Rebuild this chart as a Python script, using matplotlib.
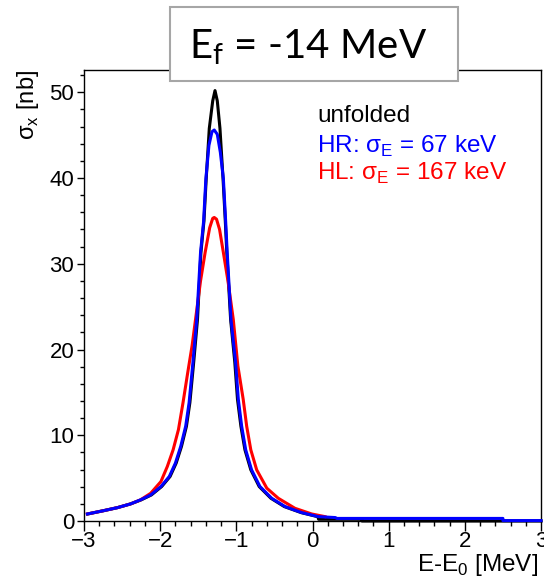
import matplotlib
matplotlib.use('Agg')
import matplotlib.pyplot as plt
from matplotlib.patches import Rectangle
from matplotlib.ticker import MultipleLocator

plt.rcParams['font.family'] = ['Liberation Sans', 'DejaVu Sans']

# unfolded (black)
x_unf = [-2.95, -2.74, -2.56, -2.39, -2.25, -2.115, -1.98, -1.87, -1.79, -1.72, -1.655, -1.61,
         -1.56, -1.51, -1.465, -1.425, -1.395, -1.355, -1.31, -1.28, -1.25, -1.215, -1.175,
         -1.145, -1.125, -1.075, -1.02, -0.985, -0.94, -0.887, -0.81, -0.70, -0.546, -0.37,
         -0.15, 0.07, 0.08, 0.65, 0.65, 3.0]
y_unf = [0.82, 1.21, 1.56, 1.99, 2.46, 3.04, 4.02, 5.19, 6.75, 8.7, 11.05, 13.8,
         18.5, 23.5, 31.3, 35.0, 40.0, 45.8, 49.0, 50.2, 49.0, 45.8, 40.0,
         35.0, 31.3, 23.5, 18.5, 14.2, 11.05, 8.3, 5.97, 4.02, 2.65, 1.68,
         0.98, 0.5, 0.2, 0.2, 0.0, 0.0]

# HR, sigma_E = 67 keV (blue)
x_hr = [-2.956, -2.74, -2.56, -2.39, -2.26, -2.125, -1.99, -1.88, -1.80, -1.73, -1.665, -1.62,
        -1.57, -1.52, -1.47, -1.43, -1.40, -1.36, -1.32, -1.29, -1.25, -1.21, -1.17,
        -1.14, -1.12, -1.07, -1.01, -0.974, -0.93, -0.877, -0.80, -0.69, -0.536, -0.36,
        -0.142, 0.076, 0.30, 0.32, 2.5, 2.5, 3.0]
y_hr = [0.82, 1.21, 1.56, 1.99, 2.46, 3.04, 4.02, 5.19, 6.75, 8.7, 11.05, 13.8,
        18.5, 23.5, 31.3, 34.9, 39.9, 43.8, 45.4, 45.6, 45.1, 43.0, 39.9,
        34.9, 31.3, 23.5, 18.5, 14.2, 11.05, 8.3, 5.97, 4.02, 2.65, 1.68,
        0.98, 0.51, 0.4, 0.3, 0.3, 0.05, 0.05]

# HL, sigma_E = 167 keV (red)
x_hl = [-2.956, -2.74, -2.56, -2.39, -2.26, -2.125, -1.99, -1.906, -1.83, -1.76, -1.70,
        -1.64, -1.58, -1.53, -1.47, -1.41, -1.35, -1.31, -1.29, -1.26, -1.22, -1.17,
        -1.11, -1.04, -0.98, -0.91, -0.864, -0.81, -0.733, -0.60, -0.449, -0.23,
        -0.01, 0.164]
y_hl = [0.82, 1.21, 1.56, 1.99, 2.46, 3.23, 4.6, 6.36, 8.3, 10.66, 13.8,
        17.2, 20.5, 23.9, 28.0, 31.3, 34.2, 35.3, 35.4, 35.2, 34.0, 31.3,
        28.0, 23.5, 18.1, 14.2, 11.05, 8.3, 5.97, 3.83, 2.65, 1.48,
        0.82, 0.51]

fig = plt.figure(figsize=(5.44, 5.82), dpi=100)
ax = fig.add_axes([84/544, 61/582, 457/544, 451/582])

ax.plot(x_unf, y_unf, color='black', lw=2.2, zorder=3, clip_on=False)
ax.plot(x_hl, y_hl, color='red', lw=2.2, zorder=4)
ax.plot(x_hr, y_hr, color='blue', lw=2.2, zorder=5, clip_on=False)

ax.set_xlim(-3, 3)
ax.set_ylim(0, 52.6)
ax.xaxis.set_major_locator(MultipleLocator(1))
ax.xaxis.set_minor_locator(MultipleLocator(0.2))
ax.yaxis.set_major_locator(MultipleLocator(10))
ax.yaxis.set_minor_locator(MultipleLocator(2))
ax.tick_params(which='both', direction='out', labelsize=16, width=1, color='black')
ax.tick_params(axis='x', which='major', length=7, pad=0)
ax.tick_params(axis='x', which='minor', length=3.6)
ax.tick_params(axis='y', which='major', length=5, pad=2)
ax.tick_params(axis='y', which='minor', length=3)
for s in ax.spines.values():
    s.set_linewidth(1.0)

ax.set_xlabel(r'E-E$_\mathregular{0}$ [MeV]', fontsize=17.5)
ax.xaxis.set_label_coords(0.994, -0.068)
ax.xaxis.label.set_horizontalalignment('right')
ax.xaxis.label.set_verticalalignment('top')
ax.set_ylabel(r'σ$_\mathregular{x}$ [nb]', loc='top', fontsize=17, labelpad=6)

ax.text(0.51, 0.885, 'unfolded', transform=ax.transAxes, fontsize=17.5, color='black')
ax.text(0.51, 0.817, r'HR: σ$_\mathregular{E}$ = 67 keV', transform=ax.transAxes,
        fontsize=17.5, color='blue')
ax.text(0.51, 0.756, r'HL: σ$_\mathregular{E}$ = 167 keV', transform=ax.transAxes,
        fontsize=17.5, color='red')

# title box
box = Rectangle((170/544, 1 - 81/582), 288/544, 74/582, transform=fig.transFigure,
                facecolor='white', edgecolor='#a6a6a6', lw=1.5, zorder=5)
fig.patches.append(box)
fig.text(308/544, 1 - 59/582, r'$\mathregular{E_f}$ = -14 MeV', ha='center', va='baseline',
         fontsize=29, family='Lato', zorder=6)

fig.savefig('out.png', dpi=100)
